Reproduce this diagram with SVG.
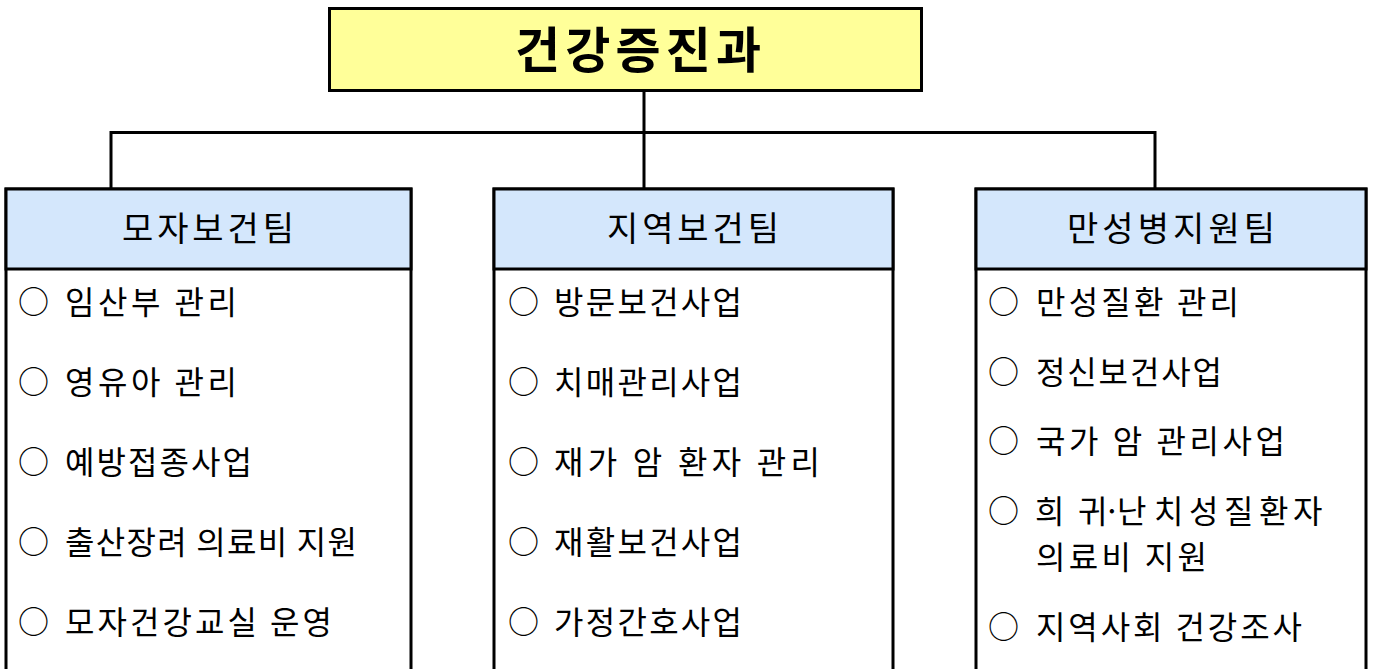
<svg xmlns="http://www.w3.org/2000/svg" width="1373" height="669" viewBox="0 0 1373 669">
<style>
text{font-family:"Noto Sans CJK KR","Noto Sans",sans-serif;fill:#000}
.title{font-size:49px;font-weight:bold}
.hd{font-size:34px;text-anchor:middle}
.it{font-size:32px}
.bul{font-size:31px}
.box{fill:#fff;stroke:#000;stroke-width:3}
.head{fill:#D4E7FC;stroke:#000;stroke-width:3}
.conn{fill:none;stroke:#000;stroke-width:3}
</style>
<rect width="1373" height="669" fill="#fff"/>
<g id="connectors">
<path class="conn" d="M644 90V189M111 132.5H1155M111 131V189M1155 131V189"/>
</g>
<g id="title">
<rect x="329.5" y="8.5" width="592" height="82" fill="#FFFF99" stroke="#000" stroke-width="3"/>
<text class="title" x="515" y="68" textLength="246" lengthAdjust="spacing">건강증진과</text>
</g>
<g id="team1">
<rect class="box" x="6" y="189" width="405" height="500"/>
<rect class="head" x="6" y="189" width="405" height="80"/>
<text class="hd" x="208" y="241" textLength="172" lengthAdjust="spacing">모자보건팀</text>
<text class="bul" x="18" y="313">○</text><text class="it" x="65" y="314" textLength="172" lengthAdjust="spacing">임산부 관리</text>
<text class="bul" x="18" y="393">○</text><text class="it" x="65" y="394" textLength="172" lengthAdjust="spacing">영유아 관리</text>
<text class="bul" x="18" y="473">○</text><text class="it" x="65" y="474" textLength="187" lengthAdjust="spacing">예방접종사업</text>
<text class="bul" x="18" y="553">○</text><text class="it" x="65" y="554" textLength="292" lengthAdjust="spacing">출산장려 의료비 지원</text>
<text class="bul" x="18" y="633">○</text><text class="it" x="65" y="634" textLength="267" lengthAdjust="spacing">모자건강교실 운영</text>
</g>
<g id="team2">
<rect class="box" x="494" y="189" width="399" height="500"/>
<rect class="head" x="494" y="189" width="399" height="80"/>
<text class="hd" x="693" y="241" textLength="172" lengthAdjust="spacing">지역보건팀</text>
<text class="bul" x="508" y="313">○</text><text class="it" x="554" y="314" textLength="188" lengthAdjust="spacing">방문보건사업</text>
<text class="bul" x="508" y="393">○</text><text class="it" x="554" y="394" textLength="188" lengthAdjust="spacing">치매관리사업</text>
<text class="bul" x="508" y="473">○</text><text class="it" x="554" y="474" textLength="266" lengthAdjust="spacing">재가 암 환자 관리</text>
<text class="bul" x="508" y="553">○</text><text class="it" x="554" y="554" textLength="188" lengthAdjust="spacing">재활보건사업</text>
<text class="bul" x="508" y="633">○</text><text class="it" x="554" y="634" textLength="188" lengthAdjust="spacing">가정간호사업</text>
</g>
<g id="team3">
<rect class="box" x="976" y="189" width="390" height="500"/>
<rect class="head" x="976" y="189" width="390" height="80"/>
<text class="hd" x="1171" y="241" textLength="208" lengthAdjust="spacing">만성병지원팀</text>
<text class="bul" x="988" y="313">○</text><text class="it" x="1036" y="314" textLength="203" lengthAdjust="spacing">만성질환 관리</text>
<text class="bul" x="988" y="383">○</text><text class="it" x="1036" y="384" textLength="186" lengthAdjust="spacing">정신보건사업</text>
<text class="bul" x="988" y="452">○</text><text class="it" x="1036" y="453" textLength="249" lengthAdjust="spacing">국가 암 관리사업</text>
<text class="bul" x="988" y="522">○</text><text class="it" x="1035 1078 1103 1117 1154 1189 1224 1259 1293" y="523">희귀·난치성질환자</text>
<text class="it" x="1036" y="569" textLength="171" lengthAdjust="spacing">의료비 지원</text>
<text class="bul" x="988" y="638">○</text><text class="it" x="1036" y="639" textLength="266" lengthAdjust="spacing">지역사회 건강조사</text>
</g>
</svg>
